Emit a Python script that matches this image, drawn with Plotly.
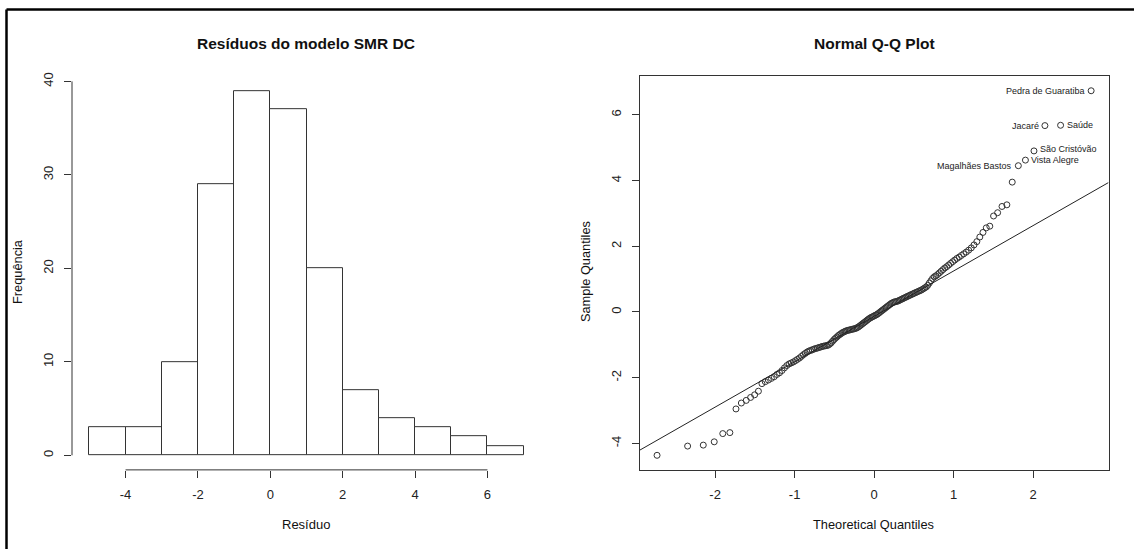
import numpy as np
import plotly.graph_objects as go
from statistics import NormalDist

# Resíduos ordenados do modelo SMR DC (158 bairros)
residuos = [
    -4.36, -4.08, -4.05, -3.95, -3.70, -3.67, -2.95, -2.77, -2.69, -2.60,
    -2.52, -2.41, -2.18, -2.12, -2.07, -2.02,
    -1.97, -1.90, -1.85, -1.78, -1.70, -1.63, -1.58, -1.55, -1.52, -1.48,
    -1.44, -1.40, -1.35, -1.30, -1.26, -1.22, -1.19, -1.17, -1.15, -1.13,
    -1.11, -1.10, -1.08, -1.07, -1.05, -1.04, -1.03, -1.02, -1.01,
    -0.98, -0.94, -0.89, -0.84, -0.80, -0.76, -0.72, -0.69, -0.66, -0.63,
    -0.61, -0.59, -0.57, -0.56, -0.55, -0.54, -0.53, -0.52, -0.51, -0.50,
    -0.48, -0.46, -0.43, -0.40, -0.37, -0.34, -0.31, -0.28, -0.25, -0.22,
    -0.19, -0.17, -0.15, -0.13, -0.11, -0.09, -0.07, -0.04, -0.01,
    0.02, 0.05, 0.08, 0.11, 0.14, 0.17, 0.20, 0.23, 0.26, 0.28,
    0.30, 0.31, 0.32, 0.33, 0.35, 0.37, 0.39, 0.41, 0.43, 0.45,
    0.47, 0.49, 0.51, 0.53, 0.55, 0.57, 0.59, 0.61, 0.63, 0.65,
    0.67, 0.70, 0.73, 0.76, 0.81, 0.88, 0.95,
    1.02, 1.07, 1.10, 1.14, 1.19, 1.24, 1.29, 1.34, 1.38, 1.43,
    1.48, 1.53, 1.58, 1.63, 1.67, 1.72, 1.77, 1.82, 1.88, 1.95,
    2.04, 2.14, 2.28, 2.42, 2.56, 2.61, 2.92,
    3.02, 3.21, 3.26, 3.95,
    4.45, 4.62, 4.90, 5.67, 5.68, 6.73,
]

# Bairros identificados (maiores resíduos, em ordem crescente)
bairros_destacados = ["Magalhães Bastos", "Vista Alegre", "São Cristóvão",
                      "Jacaré", "Saúde", "Pedra de Guaratiba"]
lado_rotulo = ["left", "right", "right", "left", "right", "left"]

# Classes do histograma e marcas dos eixos
classes_inicio, classes_fim, classes_largura = -5, 7, 1
ticks_hist_x = [-4, -2, 0, 2, 4, 6]
ticks_hist_y = [0, 10, 20, 30, 40]
ticks_qq_x = [-2, -1, 0, 1, 2]
ticks_qq_y = [-4, -2, 0, 2, 4, 6]

W, H = 1134, 549
FONT = "Liberation Sans, Arial, sans-serif"
INK = "#222222"
AXC = "#333333"

y_ord = np.sort(np.array(residuos))
n = len(y_ord)
a = 3 / 8 if n <= 10 else 0.5
teorico = np.array([NormalDist().inv_cdf((i + 1 - a) / (n + 1 - 2 * a)) for i in range(n)])

# Linha de referência pelos quartis (qqline)
q1, q3 = np.quantile(y_ord, [0.25, 0.75])
z1, z3 = NormalDist().inv_cdf(0.25), NormalDist().inv_cdf(0.75)
inclin = (q3 - q1) / (z3 - z1)
interc = q1 - inclin * z1


def ext(lo, hi):
    d = 0.04 * (hi - lo)
    return [lo - d, hi + d]


def rotulos(vals):
    # hífen simples como sinal negativo
    return [str(v) for v in vals]


contagens, _ = np.histogram(y_ord, bins=np.arange(classes_inicio, classes_fim + classes_largura, classes_largura))
hist_xr = ext(classes_inicio, classes_fim)
hist_yr = ext(0, contagens.max())
qq_xr = ext(teorico.min(), teorico.max())
qq_yr = ext(y_ord.min(), y_ord.max())

fig = go.Figure()

fig.add_trace(go.Histogram(
    x=y_ord, xbins=dict(start=classes_inicio, end=classes_fim, size=classes_largura),
    autobinx=False,
    marker=dict(color="white", line=dict(color=AXC, width=1)),
    xaxis="x", yaxis="y", hoverinfo="skip",
))

fig.add_trace(go.Scatter(
    x=teorico, y=y_ord, mode="markers",
    marker=dict(symbol="circle-open", size=6, color="#333333", line=dict(width=1)),
    xaxis="x2", yaxis="y2", hoverinfo="skip",
))

fig.add_trace(go.Scatter(
    x=qq_xr, y=[interc + inclin * v for v in qq_xr], mode="lines",
    line=dict(color=INK, width=1), xaxis="x2", yaxis="y2", hoverinfo="skip",
))

annotations = []
for k, nome in enumerate(bairros_destacados):
    idx = n - len(bairros_destacados) + k
    esq = lado_rotulo[k] == "left"
    annotations.append(dict(
        x=teorico[idx], y=y_ord[idx], xref="x2", yref="y2", text=nome,
        showarrow=False, xanchor="right" if esq else "left", yanchor="middle",
        xshift=-4 if esq else 4, yshift=2 if nome == "São Cristóvão" else 0,
        font=dict(family=FONT, size=9, color=INK),
    ))


def px_x(p):
    return p / W


def px_y(p):
    return 1 - p / H


def texto(txt, x, y, size=12.5, bold=False, angle=0):
    annotations.append(dict(
        x=px_x(x), y=px_y(y), xref="paper", yref="paper",
        text=f"<b>{txt}</b>" if bold else txt, showarrow=False,
        xanchor="center", yanchor="middle", textangle=angle,
        font=dict(family=FONT, size=size, color="#111111"),
    ))


texto("Resíduos do modelo SMR DC", 306, 40, size=15.5, bold=True)
texto("Normal Q-Q Plot", 874, 40, size=15.5, bold=True)
texto("Resíduo", 306, 524, size=13)
texto("Theoretical Quantiles", 873, 524, size=12.8)
texto("Frequência", 17, 270, size=12.8, angle=-90)
texto("Sample Quantiles", 585, 270, size=12.8, angle=-90)

eixo = dict(ticks="outside", ticklen=7, tickcolor=AXC, tickwidth=1,
            showgrid=False, zeroline=False,
            tickfont=dict(family=FONT, size=13, color=INK), ticklabelstandoff=6)

dom_y = [px_y(469.3), px_y(72.7)]
fig.update_layout(
    width=W, height=H, margin=dict(l=0, r=0, t=0, b=0),
    paper_bgcolor="white", plot_bgcolor="white", showlegend=False,
    font=dict(family=FONT, color=INK),
    bargap=0,
    xaxis=dict(domain=[px_x(72), px_x(541)], range=hist_xr, tickvals=ticks_hist_x,
               ticktext=rotulos(ticks_hist_x), showline=False, anchor="y", **eixo),
    yaxis=dict(domain=dom_y, range=hist_yr, tickvals=ticks_hist_y, ticktext=rotulos(ticks_hist_y),
               tickangle=-90, showline=False, anchor="x", **eixo),
    xaxis2=dict(domain=[px_x(639.7), px_x(1108.5)], range=qq_xr, tickvals=ticks_qq_x,
                ticktext=rotulos(ticks_qq_x), showline=True, mirror=True, linecolor=AXC,
                linewidth=1, anchor="y2", **eixo),
    yaxis2=dict(domain=dom_y, range=qq_yr, tickvals=ticks_qq_y, ticktext=rotulos(ticks_qq_y),
                tickangle=-90, showline=True, mirror=True, linecolor=AXC, linewidth=1,
                anchor="x2", **eixo),
    annotations=annotations,
)

# Linhas dos eixos do histograma (apenas entre a primeira e a última marca)
fig.add_shape(type="line", xref="x", yref="y domain", x0=ticks_hist_x[0], x1=ticks_hist_x[-1],
              y0=0, y1=0, line=dict(color=AXC, width=1))
fig.add_shape(type="line", xref="x domain", yref="y", x0=0, x1=0,
              y0=ticks_hist_y[0], y1=ticks_hist_y[-1], line=dict(color=AXC, width=1))

# Moldura externa (esquerda e topo)
fig.add_shape(type="line", xref="paper", yref="paper", x0=px_x(6.5), x1=px_x(6.5), y0=0, y1=px_y(5.5),
              line=dict(color="black", width=2.5))
fig.add_shape(type="line", xref="paper", yref="paper", x0=px_x(6.5), x1=1, y0=px_y(5.5), y1=px_y(5.5),
              line=dict(color="black", width=2.5))

fig.write_html("out.html")
